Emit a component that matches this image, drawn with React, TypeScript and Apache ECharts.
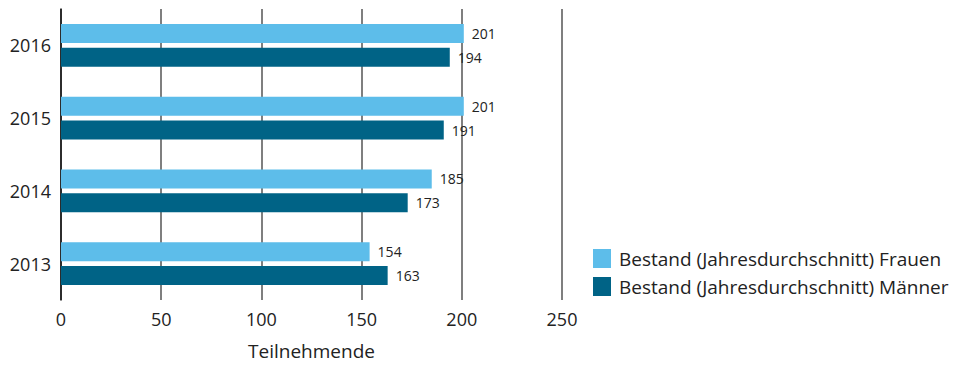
import React, { useEffect, useRef } from "react";
import * as echarts from "echarts";

const years = ["2013", "2014", "2015", "2016"];
const frauen = [154, 185, 201, 201];
const maenner = [163, 173, 191, 194];
const xTicks = [0, 50, 100, 150, 200, 250];
const seriesNames = ["Bestand (Jahresdurchschnitt) Frauen", "Bestand (Jahresdurchschnitt) Männer"];

const FONT = "'Open Sans', 'Noto Sans', sans-serif";

export default function App() {
  const ref = useRef<HTMLDivElement>(null);
  useEffect(() => {
    document.body.style.margin = "0";
    const chart = echarts.init(ref.current!, null, { renderer: "svg" });
    chart.setOption({
      animation: false,
      textStyle: { fontFamily: FONT },
      grid: { left: 61, right: 402, top: 9, bottom: 51, containLabel: false },
      legend: {
        orient: "vertical",
        left: 593,
        top: 249,
        padding: 0,
        itemWidth: 18,
        itemHeight: 19,
        itemGap: 9,
        icon: "rect",
        textStyle: { fontSize: 19, color: "#222", fontFamily: FONT, padding: [0, 0, 0, 3] },
        data: seriesNames,
      },
      xAxis: {
        type: "value",
        min: xTicks[0],
        max: xTicks[xTicks.length - 1],
        interval: 50,
        name: "Teilnehmende",
        nameLocation: "middle",
        nameGap: 41,
        nameTextStyle: { fontSize: 19, color: "#222", fontFamily: FONT },
        axisLine: { show: false },
        axisTick: { show: false },
        axisLabel: { fontSize: 18, color: "#222", margin: 10, fontFamily: FONT },
        splitLine: { show: true, lineStyle: { color: "#555", width: 1.5 } },
      },
      yAxis: {
        type: "category",
        data: years,
        axisLine: { show: true, lineStyle: { color: "#111", width: 1.5 } },
        axisTick: { show: false },
        axisLabel: { fontSize: 18, color: "#222", margin: 10, fontFamily: FONT },
      },
      series: [
        {
          name: seriesNames[0],
          type: "bar",
          data: frauen,
          barWidth: 19,
          barGap: "26%",
          itemStyle: { color: "#5DBDEA" },
          label: { show: true, position: "right", distance: 8, fontSize: 14, color: "#222", fontFamily: FONT },
        },
        {
          name: seriesNames[1],
          type: "bar",
          data: maenner,
          barWidth: 19,
          barGap: "26%",
          itemStyle: { color: "#006386" },
          label: { show: true, position: "right", distance: 8, fontSize: 14, color: "#222", fontFamily: FONT },
        },
      ],
    });
    return () => chart.dispose();
  }, []);
  return <div ref={ref} style={{ width: 964, height: 365 }} />;
}
